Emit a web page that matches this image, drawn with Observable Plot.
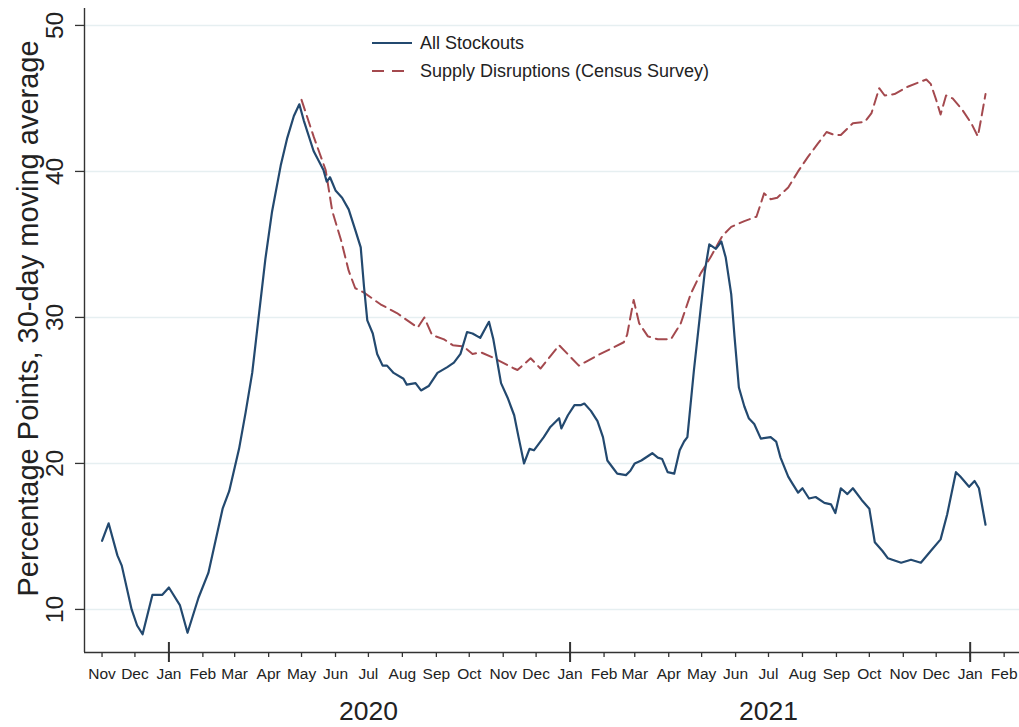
<!DOCTYPE html>
<html>
<head>
<meta charset="utf-8">
<script src="https://cdn.jsdelivr.net/npm/d3@7"></script>
<script src="https://cdn.jsdelivr.net/npm/@observablehq/plot@0.6"></script>
<style>
  html, body { margin: 0; padding: 0; background: #fff; }
  #chart { position: relative; width: 1019px; height: 727px; font-family: "Liberation Sans", Arial, sans-serif; }
  #legend { position: absolute; left: 372px; top: 29px; color: #222; font-size: 18px; }
  #legend .row { display: flex; align-items: center; height: 28px; }
  #legend svg { margin-right: 8px; }
</style>
</head>
<body>
<div id="chart">
  <div id="legend"></div>
</div>
<script>
// ---- data ----
const stockDates = ["2019-11-01","2019-11-07","2019-11-15","2019-11-19","2019-11-28","2019-12-03","2019-12-08","2019-12-17","2019-12-26","2020-01-01","2020-01-11","2020-01-18","2020-01-28","2020-02-06","2020-02-19","2020-02-25","2020-03-05","2020-03-11","2020-03-17","2020-03-23","2020-03-29","2020-04-04","2020-04-12","2020-04-18","2020-04-24","2020-04-29","2020-05-03","2020-05-12","2020-05-21","2020-05-24","2020-05-27","2020-06-01","2020-06-07","2020-06-13","2020-06-19","2020-06-24","2020-06-27","2020-06-30","2020-07-05","2020-07-09","2020-07-14","2020-07-18","2020-07-24","2020-08-02","2020-08-05","2020-08-13","2020-08-18","2020-08-25","2020-09-02","2020-09-11","2020-09-17","2020-09-23","2020-09-29","2020-10-04","2020-10-11","2020-10-16","2020-10-19","2020-10-23","2020-10-30","2020-11-05","2020-11-11","2020-11-15","2020-11-20","2020-11-25","2020-11-29","2020-12-08","2020-12-14","2020-12-22","2020-12-24","2020-12-30","2021-01-05","2021-01-11","2021-01-14","2021-01-20","2021-01-26","2021-01-31","2021-02-04","2021-02-10","2021-02-13","2021-02-21","2021-02-25","2021-03-01","2021-03-07","2021-03-17","2021-03-22","2021-03-26","2021-03-31","2021-04-06","2021-04-11","2021-04-15","2021-04-18","2021-04-24","2021-04-30","2021-05-04","2021-05-08","2021-05-14","2021-05-19","2021-05-23","2021-05-28","2021-05-31","2021-06-04","2021-06-09","2021-06-13","2021-06-18","2021-06-24","2021-07-03","2021-07-08","2021-07-12","2021-07-19","2021-07-23","2021-07-28","2021-08-01","2021-08-07","2021-08-13","2021-08-21","2021-08-27","2021-08-31","2021-09-05","2021-09-11","2021-09-16","2021-09-24","2021-10-01","2021-10-06","2021-10-13","2021-10-18","2021-10-30","2021-11-08","2021-11-17","2021-11-26","2021-12-05","2021-12-11","2021-12-19","2021-12-23","2021-12-31","2022-01-05","2022-01-09","2022-01-15"];
const stockValues = [14.7,15.9,13.7,13.0,10.0,8.9,8.3,11.0,11.0,11.5,10.3,8.4,10.8,12.5,16.9,18.1,21.0,23.5,26.2,30.1,34.0,37.2,40.4,42.3,43.8,44.6,43.5,41.4,40.1,39.3,39.6,38.7,38.2,37.4,36.0,34.8,32.1,29.8,28.9,27.5,26.7,26.7,26.2,25.8,25.4,25.5,25.0,25.3,26.2,26.6,26.9,27.5,29.0,28.9,28.6,29.3,29.7,28.5,25.5,24.5,23.3,21.8,20.0,21.0,20.9,21.8,22.5,23.1,22.4,23.3,24.0,24.0,24.1,23.6,22.9,21.8,20.2,19.6,19.3,19.2,19.5,20.0,20.2,20.7,20.4,20.3,19.4,19.3,20.9,21.5,21.8,26.4,30.5,33.2,35.0,34.7,35.2,34.1,31.6,28.7,25.2,23.9,23.1,22.7,21.7,21.8,21.5,20.4,19.1,18.6,18.0,18.3,17.6,17.7,17.3,17.2,16.6,18.3,17.9,18.3,17.5,16.9,14.6,14.0,13.5,13.2,13.4,13.2,14.0,14.8,16.5,19.4,19.1,18.4,18.8,18.3,15.8];

const censusDates = ["2020-05-01","2020-05-12","2020-05-23","2020-05-29","2020-06-06","2020-06-13","2020-06-19","2020-06-27","2020-07-12","2020-07-27","2020-08-15","2020-08-21","2020-08-28","2020-09-08","2020-09-16","2020-09-26","2020-10-04","2020-10-12","2020-10-24","2020-11-11","2020-11-14","2020-11-26","2020-12-05","2020-12-22","2021-01-09","2021-01-26","2021-02-19","2021-02-22","2021-02-28","2021-03-05","2021-03-13","2021-03-22","2021-04-03","2021-04-12","2021-04-21","2021-04-30","2021-05-09","2021-05-20","2021-05-28","2021-06-09","2021-06-20","2021-06-24","2021-06-27","2021-07-03","2021-07-09","2021-07-19","2021-07-28","2021-08-06","2021-08-15","2021-08-23","2021-08-30","2021-09-05","2021-09-16","2021-09-27","2021-10-03","2021-10-10","2021-10-15","2021-10-24","2021-11-05","2021-11-22","2021-11-26","2021-12-01","2021-12-05","2021-12-10","2021-12-16","2021-12-25","2022-01-02","2022-01-08","2022-01-11","2022-01-15"];
const censusValues = [44.9,42.4,40.1,37.3,35.3,33.2,32.0,31.7,30.9,30.3,29.3,30.0,28.8,28.5,28.1,28.0,27.5,27.6,27.2,26.5,26.4,27.2,26.5,28.1,26.7,27.4,28.3,28.8,31.2,29.6,28.7,28.5,28.5,29.6,31.6,33.0,34.1,35.6,36.2,36.6,36.9,37.8,38.5,38.1,38.2,38.9,40.0,41.0,41.9,42.7,42.5,42.5,43.3,43.4,44.0,45.7,45.2,45.3,45.8,46.3,46.0,44.9,43.9,45.2,45.0,44.2,43.3,42.4,43.6,45.3];

const monthTickDates = ["2019-11-01","2019-12-01","2020-01-01","2020-02-01","2020-03-01","2020-04-01","2020-05-01","2020-06-01","2020-07-01","2020-08-01","2020-09-01","2020-10-01","2020-11-01","2020-12-01","2021-01-01","2021-02-01","2021-03-01","2021-04-01","2021-05-01","2021-06-01","2021-07-01","2021-08-01","2021-09-01","2021-10-01","2021-11-01","2021-12-01","2022-01-01","2022-02-01"];
const monthTickLabels = ["Nov","Dec","Jan","Feb","Mar","Apr","May","Jun","Jul","Aug","Sep","Oct","Nov","Dec","Jan","Feb","Mar","Apr","May","Jun","Jul","Aug","Sep","Oct","Nov","Dec","Jan","Feb"];
const yearTickDates = ["2020-01-01","2021-01-01","2022-01-01"];
const yearLabelDates = ["2020-07-01","2021-07-01"];
const yearLabels = ["2020","2021"];
const yTicks = [10, 20, 30, 40, 50];

const seriesNames = ["All Stockouts", "Supply Disruptions (Census Survey)"];
const yTitle = "Percentage Points, 30-day moving average";

// ---- build tables ----
const parse = s => new Date(s + "T00:00:00Z");
const stock = stockDates.map((d, i) => ({date: parse(d), value: stockValues[i]}));
const census = censusDates.map((d, i) => ({date: parse(d), value: censusValues[i]}));
const months = monthTickDates.map((d, i) => ({date: parse(d), label: monthTickLabels[i]}));
const years = yearLabelDates.map((d, i) => ({date: parse(d), label: yearLabels[i]}));

const blue = "#23496f";
const red = "#a4494e";
const axisColor = "#333";
const gridColor = "#e6eff1";
const font = "'Liberation Sans', Arial, sans-serif";

const xDomain = [parse("2019-10-16"), parse("2022-02-15")];
const yDomain = [7.05, 51.16];

const chart = Plot.plot({
  width: 1019,
  height: 727,
  marginLeft: 84,
  marginRight: 0,
  marginTop: 8,
  marginBottom: 75,
  x: {type: "utc", domain: xDomain},
  y: {domain: yDomain},
  style: {fontFamily: font, color: "#222", background: "white", overflow: "visible"},
  marks: [
    Plot.ruleY(yTicks, {stroke: gridColor, strokeWidth: 1.6}),
    Plot.line(census, {x: "date", y: "value", stroke: red, strokeWidth: 2, strokeDasharray: "11,6"}),
    Plot.line(stock, {x: "date", y: "value", stroke: blue, strokeWidth: 2.2}),
    Plot.ruleX([xDomain[0]], {stroke: axisColor, strokeWidth: 1.4}),
    Plot.ruleY([yDomain[0]], {stroke: axisColor, strokeWidth: 1.4}),
    Plot.axisY(yTicks, {anchor: "left", tickSize: 9, tickFormat: () => "", label: null, stroke: axisColor, strokeWidth: 1.3}),
    Plot.axisX(months.map(d => d.date), {anchor: "bottom", tickSize: 5, tickFormat: () => "", label: null, stroke: axisColor, strokeWidth: 1.3}),
    Plot.axisX(yearTickDates.map(parse), {anchor: "bottom", tickSize: 20, dy: -10, tickFormat: () => "", label: null, stroke: axisColor, strokeWidth: 2}),
    Plot.text(yTicks, {y: d => d, text: d => String(d), frameAnchor: "left", textAnchor: "middle", rotate: -90, dx: -29, fontSize: 24.5, fill: "#222"}),
    Plot.text([yTitle], {text: d => d, frameAnchor: "left", textAnchor: "middle", rotate: -90, dx: -56, dy: -12, fontSize: 29, fill: "#222"}),
    Plot.text(months, {x: "date", text: "label", frameAnchor: "bottom", lineAnchor: "top", dy: 15, fontSize: 15.5, fill: "#222"}),
    Plot.text(years, {x: "date", text: "label", frameAnchor: "bottom", lineAnchor: "top", dy: 49, fontSize: 26.5, fill: "#222"})
  ]
});

const host = document.getElementById("chart");
host.insertBefore(chart, host.firstChild);

// ---- legend ----
const legend = d3.select("#legend");
const legendItems = [
  {name: seriesNames[0], color: blue, dash: null, width: 2.2},
  {name: seriesNames[1], color: red, dash: "12,8", width: 2}
];
legendItems.forEach(it => {
  const row = legend.append("div").attr("class", "row");
  const s = row.append("svg").attr("width", 40).attr("height", 10);
  s.append("line").attr("x1", 0).attr("x2", 40).attr("y1", 5).attr("y2", 5)
    .attr("stroke", it.color).attr("stroke-width", it.width)
    .attr("stroke-dasharray", it.dash);
  row.append("span").text(it.name);
});
</script>
</body>
</html>
